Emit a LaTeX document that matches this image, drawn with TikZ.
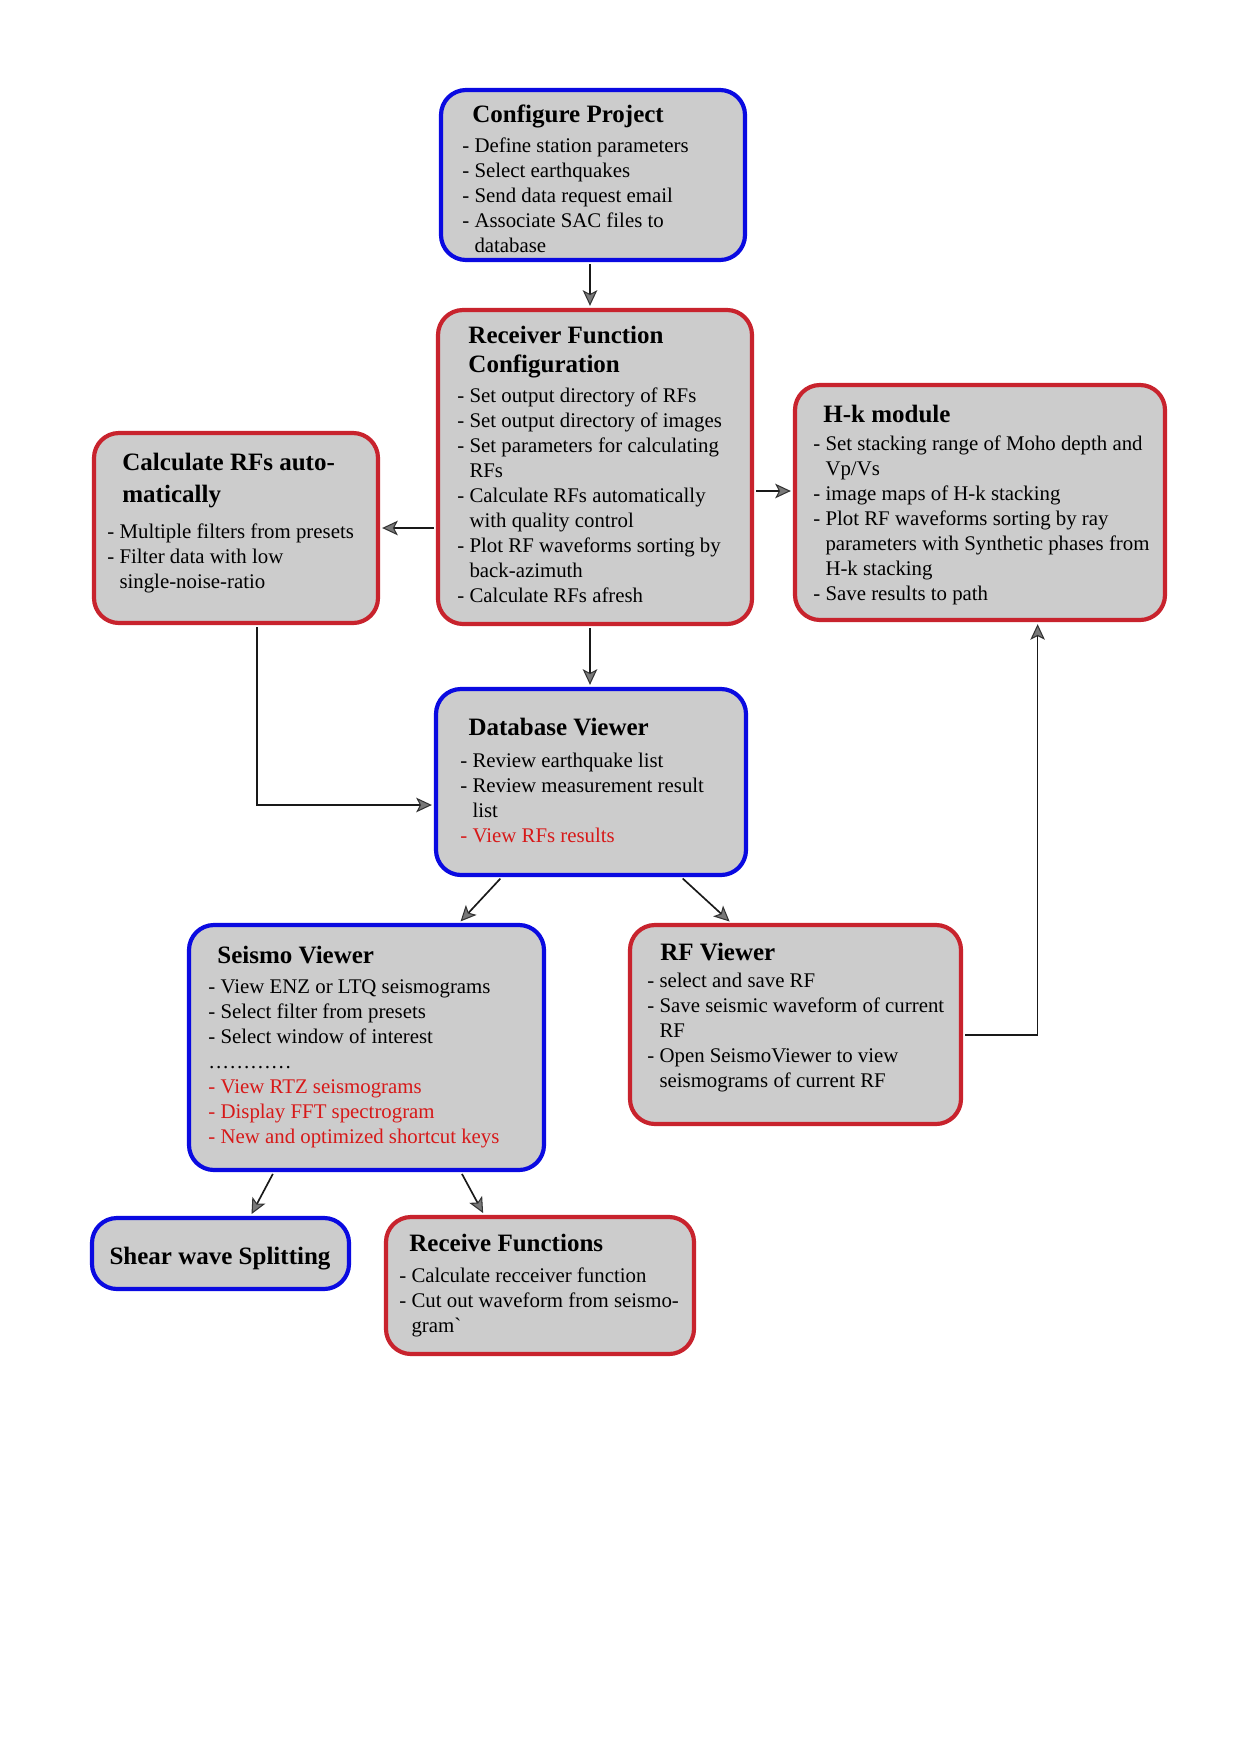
\documentclass[tikz,border=0pt]{standalone}
\usepackage{fontspec}
\setmainfont{Liberation Serif}
\usetikzlibrary{arrows.meta,calc}
\definecolor{bluebd}{RGB}{10,10,225}
\definecolor{redbd}{RGB}{200,35,45}
\definecolor{boxfill}{RGB}{204,204,204}
\definecolor{redtxt}{RGB}{215,25,25}
\definecolor{tipfill}{RGB}{120,120,120}
\newcommand\pxu{0.48pt}
\newcommand\ttl[1]{{\fontsize{12}{14}\selectfont\bfseries\rule{0pt}{9pt}#1}}
\newcommand\cont{\hspace*{5.8pt}}
\begin{document}
\begin{tikzpicture}[x=0.48pt,y=-0.48pt,
  boxbase/.style={draw, fill=boxfill, rounded corners=12pt, line width=2pt, inner sep=0pt},
  bluebox/.style={boxbase, draw=bluebd},
  redbox/.style={boxbase, draw=redbd},
  txt/.style={anchor=north west, inner sep=0pt, align=left, font=\fontsize{10}{12}\selectfont},
  arr/.style={draw=black!90, line width=0.8pt, shorten >=1pt, shorten <=1pt,
    -{Stealth[length=7.5pt,width=7pt,inset=1.8pt,color=black!80,fill=tipfill,line width=0.5pt]}},
]
\useasboundingbox (0,0) rectangle (1240,1753);
\fill[white] (0,0) rectangle (1240,1753);

% boxes
\node[bluebox, minimum width=304*\pxu, minimum height=170*\pxu] (cp) at (593,175) {};
\node[redbox, minimum width=314*\pxu, minimum height=314*\pxu] (rfc) at (595,467) {};
\node[redbox, minimum width=284*\pxu, minimum height=190*\pxu] (calc) at (236,528) {};
\node[redbox, minimum width=370*\pxu, minimum height=235*\pxu] (hk) at (980,502.5) {};
\node[bluebox, minimum width=310*\pxu, minimum height=186*\pxu] (db) at (591,782) {};
\node[bluebox, minimum width=355*\pxu, minimum height=245*\pxu] (sv) at (366.5,1047.5) {};
\node[redbox, minimum width=331*\pxu, minimum height=199*\pxu] (rfv) at (795.5,1024.5) {};
\node[bluebox, minimum width=257*\pxu, minimum height=71*\pxu] (sws) at (220.5,1253.5) {};
\node[redbox, minimum width=308*\pxu, minimum height=137*\pxu] (rcf) at (540,1285.5) {};

% texts
\node[txt] (cpt) at (462,103) {\hspace*{4.8pt}\ttl{Configure Project}\\[2.5pt]
- Define station parameters\\
- Select earthquakes\\
- Send data request email\\
- Associate SAC files to\\
\cont database};

\node[txt] (rfct) at (457,324) {\hspace*{5.3pt}\ttl{Receiver Function}\\[2.0pt]
\hspace*{5.3pt}\ttl{Configuration}\\[2.5pt]
- Set output directory of RFs\\
- Set output directory of images\\
- Set parameters for calculating\\
\cont RFs\\
- Calculate RFs automatically\\
\cont with quality control\\
- Plot RF waveforms sorting by\\
\cont back-azimuth\\
- Calculate RFs afresh};

\node[txt] (calct) at (107,451) {\hspace*{7.2pt}\ttl{Calculate RFs auto-}\\[3.3pt]
\hspace*{7.2pt}\ttl{matically}\\[5.4pt]
- Multiple filters from presets\\
- Filter data with low\\
\cont single-noise-ratio};

\node[txt] (hkt) at (813,403) {\hspace*{4.8pt}\ttl{H-k module}\\[1.5pt]
- Set stacking range of Moho depth and\\
\cont Vp/Vs\\
- image maps of H-k stacking\\
- Plot RF waveforms sorting by ray\\
\cont parameters with Synthetic phases from\\
\cont H-k stacking\\
- Save results to path};

\node[txt] (dbt) at (460,716) {\hspace*{3.9pt}\ttl{Database Viewer}\\[3.5pt]
- Review earthquake list\\
- Review measurement result\\
\cont list\\
\textcolor{redtxt}{- View RFs results}};

\node[txt] (svt) at (208,944) {\hspace*{4.3pt}\ttl{Seismo Viewer}\\[2.5pt]
- View ENZ or LTQ seismograms\\
- Select filter from presets\\
- Select window of interest\\
…………\\
\textcolor{redtxt}{- View RTZ seismograms}\\
\textcolor{redtxt}{- Display FFT spectrogram}\\
\textcolor{redtxt}{- New and optimized shortcut keys}};

\node[txt] (rfvt) at (647,941) {\hspace*{6.2pt}\ttl{RF Viewer}\\[1.2pt]
- select and save RF\\
- Save seismic waveform of current\\
\cont RF\\
- Open SeismoViewer to view\\
\cont seismograms of current RF};

\node[anchor=base, inner sep=0pt] (swst) at (220,1264) {\ttl{Shear wave Splitting}};

\node[txt] (rcft) at (399,1232) {\hspace*{4.8pt}\ttl{Receive Functions}\\[2.9pt]
- Calculate recceiver function\\
- Cut out waveform from seismo-\\
\cont gram{\addfontfeatures{Ligatures=TeXOff}`}};

% connectors
\coordinate (vx) at (590,0);
\draw[arr] (cp.south -| vx) -- (rfc.north -| vx);
\draw[arr] (rfc.south -| vx) -- (db.north -| vx);
\draw[arr] (calc.east -| rfc.west) -- (calc.east);
\coordinate (hy) at (0,491);
\draw[arr] (rfc.east |- hy) -- (hk.west |- hy);
\coordinate (cy) at (257,805);
\draw[arr] (calc.south -| cy) |- (db.west |- cy);
\draw[arr] ($(db.south west)!0.216!(db.south east)$) -- ($(sv.north west)!0.758!(sv.north east)$);
\draw[arr] ($(db.south west)!0.787!(db.south east)$) -- ($(rfv.north west)!0.308!(rfv.north east)$);
\coordinate (ry) at (0,1035);
\draw[arr] (rfv.east |- ry) -| ($(hk.south west)!0.654!(hk.south east)$);
\draw[arr] ($(sv.south west)!0.242!(sv.south east)$) -- ($(sws.north west)!0.615!(sws.north east)$);
\draw[arr] ($(sv.south west)!0.763!(sv.south east)$) -- ($(rcf.north west)!0.321!(rcf.north east)$);
\end{tikzpicture}
\end{document}
